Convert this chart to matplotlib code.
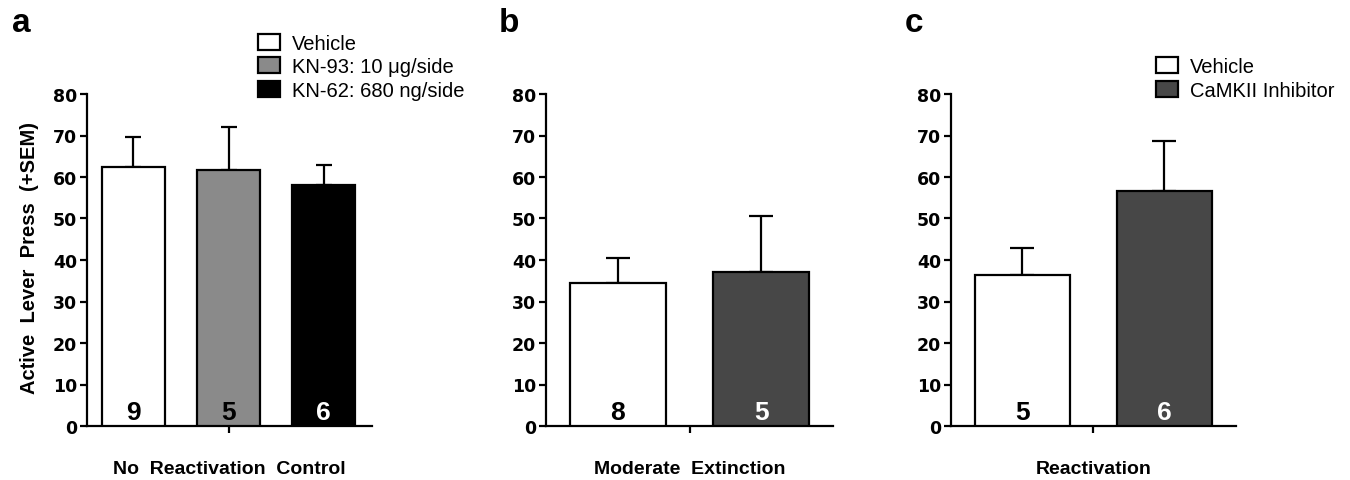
import matplotlib
matplotlib.use("Agg")
import matplotlib.pyplot as plt
from matplotlib.patches import Patch

# ---------------- data ----------------
a_groups = ["Vehicle", "KN-93: 10 \u03bcg/side", "KN-62: 680 ng/side"]
a_means = [62.3, 61.7, 58.0]
a_sem = [7.4, 10.3, 4.9]
a_n = [9, 5, 6]
a_xlabel = "No  Reactivation  Control"

b_groups = ["Vehicle", "CaMKII Inhibitor"]
b_means = [34.5, 37.2]
b_sem = [5.9, 13.3]
b_n = [8, 5]
b_xlabel = "Moderate  Extinction"

c_groups = ["Vehicle", "CaMKII Inhibitor"]
c_means = [36.5, 56.6]
c_sem = [6.4, 12.0]
c_n = [5, 6]
c_xlabel = "Reactivation"

ylabel = "Active  Lever  Press  (+SEM)"
yticks = [0, 10, 20, 30, 40, 50, 60, 70, 80]

# ---------------- style ----------------
plt.rcParams['font.family'] = ['Liberation Sans', 'DejaVu Sans']
W, H = 1350, 481
fig = plt.figure(figsize=(W / 100, H / 100), dpi=100)

LW = 1.6
y0_px, y80_px = 427, 95
AX_H = y0_px - y80_px


def make_ax(left_px, right_px):
    return fig.add_axes([left_px / W, (H - y0_px) / H,
                         (right_px - left_px) / W, AX_H / H])


def style(ax, xlim, xtick, xlabel):
    ax.set_ylim(0, 80)
    ax.set_xlim(*xlim)
    for s in ["top", "right"]:
        ax.spines[s].set_visible(False)
    for s in ["left", "bottom"]:
        ax.spines[s].set_linewidth(LW)
    ax.set_yticks(yticks)
    ax.set_yticklabels([str(t) for t in yticks], fontsize=12.5,
                       fontweight='bold', family=['DejaVu Sans'])
    ax.set_xticks([xtick])
    ax.set_xticklabels([""])
    ax.tick_params(axis='both', direction='out', length=5, width=LW, pad=2)
    ax.set_xlabel(xlabel, fontsize=14, fontweight='bold')
    ax.xaxis.set_label_coords(0.5, -34.5 / AX_H)


def bars(ax, means, sem, ns, colors, numcolors, capsize):
    x = list(range(len(means)))
    ax.bar(x, means, width=0.67, color=colors, edgecolor='black',
           linewidth=LW, zorder=3)
    ax.errorbar(x, means, yerr=[[0] * len(sem), sem], fmt='none',
                ecolor='black', elinewidth=LW, capsize=capsize,
                capthick=LW, zorder=2)
    for xi, n, c in zip(x, ns, numcolors):
        ax.text(xi, 3.3, str(n), ha='center', va='center', fontsize=19,
                fontweight='bold', color=c, zorder=4)


def legend(handles_colors, labels, x_px, y_px):
    fig.legend(handles=[Patch(facecolor=c, edgecolor='black', linewidth=LW)
                        for c in handles_colors],
               labels=labels, loc='upper left',
               bbox_to_anchor=(x_px / W, 1 - y_px / H), frameon=False,
               fontsize=14.5, handlelength=1.1, handleheight=0.85,
               handletextpad=0.6, labelspacing=0.24, borderpad=0,
               borderaxespad=0)


# ---- panel a ----
axa = make_ax(87, 372)
a_colors = ['white', '#8a8a8a', 'black']
bars(axa, a_means, a_sem, a_n, a_colors, ['black', 'black', 'white'], 6)
style(axa, (-0.489, 2.51), 1, a_xlabel)
axa.set_ylabel(ylabel, fontsize=14.5, fontweight='bold')
axa.yaxis.set_label_coords((39 - 87) / 285, 0.51)
legend(a_colors, a_groups, 258, 34.5)

# ---- panel b ----
axb = make_ax(546, 833)
b_colors = ['white', '#474747']
bars(axb, b_means, b_sem, b_n, b_colors, ['black', 'white'], 8.5)
style(axb, (-0.503, 1.503), 0.5, b_xlabel)

# ---- panel c ----
axc = make_ax(951, 1236)
c_colors = ['white', '#474747']
bars(axc, c_means, c_sem, c_n, c_colors, ['black', 'white'], 8.5)
style(axc, (-0.501, 1.505), 0.5, c_xlabel)
legend(c_colors, c_groups, 1156, 58)

# ---- panel letters ----
for lbl, xp in [("a", 12), ("b", 499), ("c", 905)]:
    fig.text(xp / W, 1 - 32 / H, lbl, fontsize=24, fontweight='bold',
             ha='left', va='baseline')

fig.savefig("out.png", dpi=100)
